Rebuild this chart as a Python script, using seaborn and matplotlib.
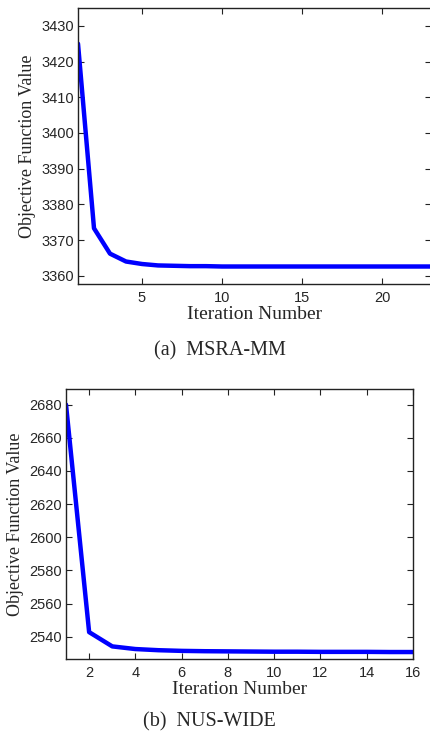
"""
Convergence curves of the objective function on two datasets
"""
import numpy as np
import pandas as pd
import matplotlib
matplotlib.use('Agg')
import matplotlib.pyplot as plt
import seaborn as sns

# ─── data ────────────────────────────────────────────────────────────────────
msra_iter = list(range(1, 24))
msra_obj = [3425.0, 3373.3, 3366.2, 3364.0, 3363.3, 3362.9, 3362.8, 3362.7,
            3362.7, 3362.6, 3362.6, 3362.6, 3362.6, 3362.6, 3362.6, 3362.6,
            3362.6, 3362.6, 3362.6, 3362.6, 3362.6, 3362.6, 3362.6]

nus_iter = list(range(1, 17))
nus_obj = [2680.0, 2542.8, 2534.2, 2532.6, 2531.9, 2531.5, 2531.3, 2531.2,
           2531.1, 2531.0, 2531.0, 2530.9, 2530.9, 2530.9, 2530.8, 2530.8]

msra_xticks = [5, 10, 15, 20]
msra_yticks = [3360, 3370, 3380, 3390, 3400, 3410, 3420, 3430]
nus_xticks = [2, 4, 6, 8, 10, 12, 14, 16]
nus_yticks = [2540, 2560, 2580, 2600, 2620, 2640, 2660, 2680]

captions = ['(a)  MSRA-MM', '(b)  NUS-WIDE']

# ─── style ───────────────────────────────────────────────────────────────────
sns.set_style('ticks')
plt.rcParams['font.family'] = ['Liberation Sans', 'DejaVu Sans']
plt.rcParams['xtick.direction'] = 'in'
plt.rcParams['ytick.direction'] = 'in'
plt.rcParams['axes.linewidth'] = 1.0

W, H = 430, 734
fig = plt.figure(figsize=(W / 100, H / 100), dpi=100)


def px_axes(left, top, right, bottom):
    return fig.add_axes([left / W, 1 - bottom / H, (right - left) / W, (bottom - top) / H])


panels = [
    (px_axes(78, 8, 431, 284), msra_iter, msra_obj, msra_xticks, msra_yticks,
     (1, 23.06), (3357.7, 3435.0)),
    (px_axes(66, 389, 413, 659), nus_iter, nus_obj, nus_xticks, nus_yticks,
     (1, 16), (2526.6, 2689.4)),
]

for ax, xs, ys, xt, yt, xl, yl in panels:
    df = pd.DataFrame({'iter': xs, 'obj': ys})
    sns.lineplot(data=df, x='iter', y='obj', ax=ax, color='#0000ff', lw=3.2)
    ax.set_xlim(*xl)
    ax.set_ylim(*yl)
    ax.set_xticks(xt)
    ax.set_yticks(yt)
    ax.tick_params(which='both', top=True, right=True, length=4, width=0.8,
                   labelsize=10.5, color='#222222')
    ax.tick_params(axis='x', pad=5)
    ax.tick_params(axis='y', pad=3)
    ax.set_xlabel('Iteration Number', family=['Liberation Serif'], fontsize=14, labelpad=1)
    ax.set_ylabel('Objective Function Value', family=['Liberation Serif'], fontsize=13, labelpad=4)
    for s in ax.spines.values():
        s.set_color('#222222')

fig.text(220 / W, 1 - 351 / H, captions[0], family=['Liberation Serif'], fontsize=14.5,
         ha='center', va='center')
fig.text(209 / W, 1 - 722 / H, captions[1], family=['Liberation Serif'], fontsize=14.5,
         ha='center', va='center')

plt.savefig('out.png', dpi=100, facecolor='white')
plt.close()
